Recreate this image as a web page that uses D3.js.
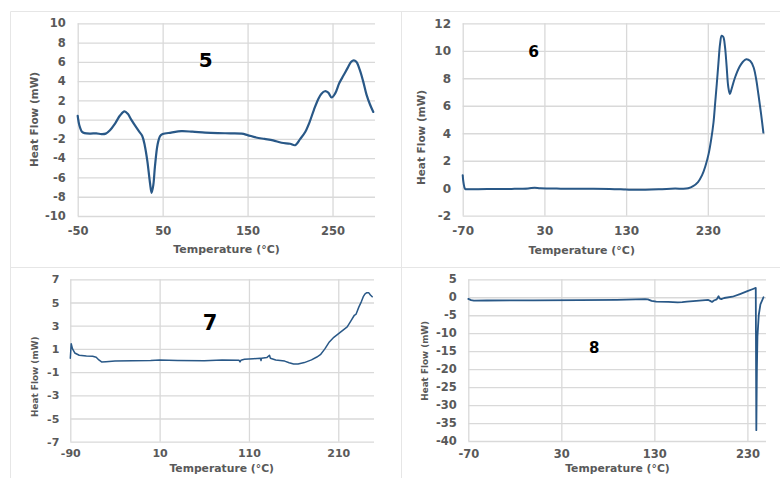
<!DOCTYPE html>
<html><head><meta charset="utf-8">
<script src="https://cdn.jsdelivr.net/npm/d3@7"></script>
<style>
body{margin:0;background:#fff}
svg{display:block}
text{font-family:"DejaVu Sans",Verdana,sans-serif;font-weight:bold}
</style>
</head><body>
<svg id="c" width="780" height="478"></svg>
<script>
// ---------- DATA ----------
// Sample 5
const temp5 = [-50,-48,-45,-42,-35,-28,-22,-17,-12,-6,0,5,9,13,17,22,26,29,32,35,37,39,41,44,47,50,60,72,85,100,115,130,143,150,160,170,180,190,200,206,212,218,223,228,233,237,241,245,249,253,258,263,268,272,275,278,282,286,290,294,298];
const flow5 = [0.4,-0.6,-1.25,-1.4,-1.45,-1.42,-1.5,-1.45,-1.1,-0.4,0.45,0.85,0.6,0.0,-0.55,-1.2,-1.7,-2.7,-4.3,-6.5,-7.6,-6.8,-4.8,-2.6,-1.7,-1.5,-1.35,-1.2,-1.25,-1.35,-1.4,-1.42,-1.45,-1.6,-1.85,-2.0,-2.15,-2.4,-2.5,-2.65,-2.0,-1.25,-0.25,1.0,2.1,2.7,2.95,2.8,2.3,2.7,3.8,4.6,5.4,6.0,6.15,6.0,5.2,4.0,2.6,1.6,0.8];
const xTicks5 = [-50,50,150,250];
const yTicks5 = [-10,-8,-6,-4,-2,0,2,4,6,8,10];

// Sample 6
const temp6 = [-70,-69,-67,-64,-40,-10,10,18,25,50,80,110,130,140,170,190,200,206,212,218,223,227,231,234,237,239,241,243,245,247,249,251,253,255,257,259,263,269,273,277,282,286,289,292,295,298];
const flow6 = [0.95,0.4,-0.05,-0.08,-0.05,-0.05,-0.02,0.04,0.0,-0.03,-0.04,-0.05,-0.1,-0.12,-0.08,-0.02,-0.04,0.0,0.15,0.45,0.95,1.6,2.5,3.5,4.8,6.2,7.6,9.1,10.5,11.1,11.0,10.3,8.9,7.4,6.85,7.2,8.0,8.85,9.2,9.38,9.25,8.8,8.0,6.8,5.5,4.05];
const xTicks6 = [-70,30,130,230];
const yTicks6 = [-2,0,2,4,6,8,10,12];

// Sample 7
const temp7 = [-90,-89,-87.5,-85,-80,-72,-65,-61,-58,-55,-50,-40,-20,0,10,30,60,80,99,100,101,105,115,123,123.5,124,130,133,134,140,150,155,160,165,172,180,186,190,195,200,205,210,215,220,224,228,230,233,236,238,240,242,244,246,248];
const flow7 = [0.2,1.45,1.0,0.65,0.45,0.38,0.36,0.28,0.05,-0.12,-0.1,-0.05,-0.02,0.0,0.04,0.0,-0.02,0.05,0.02,-0.12,0.02,0.1,0.15,0.2,0.0,0.2,0.25,0.45,0.2,0.05,-0.05,-0.2,-0.3,-0.3,-0.18,0.05,0.3,0.5,1.0,1.6,2.0,2.3,2.6,2.9,3.4,3.9,4.0,4.6,5.1,5.5,5.75,5.85,5.85,5.65,5.5];
const xTicks7 = [-90,10,110,210];
const yTicks7 = [-7,-5,-3,-1,1,3,5,7];

// Sample 8
const temp8 = [-70,-67,-64,-50,0,50,90,120,123,127,132,145,155,160,165,175,188,190,192,194,197,199,200,202,205,214,222,230,236,239,239.6,240.2,240.8,242.2,244,247.3];
const flow8 = [-0.45,-0.8,-0.95,-0.9,-0.85,-0.8,-0.7,-0.5,-0.6,-1.0,-1.2,-1.3,-1.4,-1.35,-1.2,-1.0,-0.75,-1.0,-1.3,-0.9,-0.6,0.3,-0.3,-0.5,-0.2,0.15,0.9,1.7,2.3,2.6,-37,-20,-11,-5,-2,0];
const xTicks8 = [-70,30,130,230];
const yTicks8 = [-40,-35,-30,-25,-20,-15,-10,-5,0,5];

const sampleLabels = ["5","6","7","8"];
const xTitle = "Temperature (°C)";
const yTitle = "Heat Flow (mW)";

// ---------- LAYOUT ----------
const svg = d3.select("#c");
const LINE = "#295887";
const GRID = "#d9d9d9";
const TXT = "#595959";

// panel frames
const frame = svg.append("g").attr("stroke","#e6e6e6").attr("stroke-width",1).attr("fill","none");
[[10,11,780,11],[10,267,780,267],[10,11,10,478],[401,11,401,478]].forEach(l=>{
  frame.append("line").attr("x1",l[0]+0.5).attr("y1",l[1]+0.5).attr("x2",l[2]+0.5).attr("y2",l[3]+0.5);
});

const panels = [
  {temp:temp5, flow:flow5, xd:[-50,300], yd:[-10,10], xt:xTicks5, yt:yTicks5,
   L:77.7,R:375,T:23.3,B:216, tickFs:11.5, xPad:11, yPad:12, lw:2.2, curve:d3.curveCatmullRom,
   lab:{x:205.8,y:67,fs:20}, xTi:{x:226.5,y:252.5,fs:11}, yTi:{x:33.8,y:119.5,fs:10.5}},
  {temp:temp6, flow:flow6, xd:[-70,300], yd:[-2,12], xt:xTicks6, yt:yTicks6,
   L:462.7,R:765,T:23.3,B:215.7, tickFs:12, xPad:11, yPad:11.7, lw:2, curve:d3.curveCatmullRom,
   lab:{x:533.7,y:57.3,fs:15.5}, xTi:{x:581.7,y:254,fs:11}, yTi:{x:420.8,y:137.5,fs:10.5}},
  {temp:temp7, flow:flow7, xd:[-90,250], yd:[-7,7], xt:xTicks7, yt:yTicks7,
   L:70.3,R:374,T:279.3,B:441.7, tickFs:11, xPad:8, yPad:11, lw:1.5, curve:d3.curveLinear,
   lab:{x:210,y:330,fs:21}, xTi:{x:221.7,y:472,fs:10.8}, yTi:{x:35,y:376.7,fs:8.9}},
  {temp:temp8, flow:flow8, xd:[-70,250], yd:[-40,5], xt:xTicks8, yt:yTicks8,
   L:468.3,R:766,T:279.3,B:441, tickFs:11.5, xPad:8.5, yPad:11.6, lw:1.8, curve:d3.curveLinear,
   lab:{x:594.2,y:353.3,fs:15}, xTi:{x:617.5,y:472,fs:10.8}, yTi:{x:425,y:360.8,fs:8.8}}
];

panels.forEach((p,i)=>{
  const x = d3.scaleLinear().domain(p.xd).range([p.L,p.R]);
  const y = d3.scaleLinear().domain(p.yd).range([p.B,p.T]);
  const g = svg.append("g");

  const ya = g.append("g").attr("transform",`translate(${p.L},0)`)
    .call(d3.axisLeft(y).tickValues(p.yt).tickFormat(d3.format("d")).tickSize(-(p.R-p.L)).tickPadding(p.yPad));
  const xa = g.append("g").attr("transform",`translate(0,${p.B})`)
    .call(d3.axisBottom(x).tickValues(p.xt).tickFormat(d3.format("d")).tickSize(-(p.B-p.T)).tickPadding(p.xPad));
  [ya,xa].forEach(a=>{
    a.select(".domain").remove();
    a.selectAll(".tick line").attr("stroke",GRID).attr("stroke-width",1.3);
    a.selectAll(".tick text").attr("fill",TXT).attr("font-size",p.tickFs)
      .attr("font-family",'"DejaVu Sans",Verdana,sans-serif').attr("font-weight","bold");
    a.attr("font-size",null).attr("font-family",null);
  });
  ya.selectAll(".tick text").text(d=> d<0 ? "-"+Math.abs(d) : d);
  xa.selectAll(".tick text").text(d=> d<0 ? "-"+Math.abs(d) : d);

  const pts = p.temp.map((t,k)=>[t,p.flow[k]]);
  g.append("path").datum(pts)
    .attr("fill","none").attr("stroke",LINE).attr("stroke-width",p.lw)
    .attr("stroke-linejoin","round").attr("stroke-linecap","round")
    .attr("d", d3.line().x(d=>x(d[0])).y(d=>y(d[1])).curve(p.curve));

  g.append("text").attr("x",p.lab.x).attr("y",p.lab.y).attr("text-anchor","middle")
    .attr("font-size",p.lab.fs).attr("fill","#000").text(sampleLabels[i]);
  g.append("text").attr("x",p.xTi.x).attr("y",p.xTi.y).attr("text-anchor","middle")
    .attr("font-size",p.xTi.fs).attr("fill",TXT).text(xTitle);
  g.append("text").attr("transform",`translate(${p.yTi.x},${p.yTi.y}) rotate(-90)`)
    .attr("text-anchor","middle").attr("dominant-baseline","central")
    .attr("font-size",p.yTi.fs).attr("fill",TXT).text(yTitle);
});
</script>
</body></html>
